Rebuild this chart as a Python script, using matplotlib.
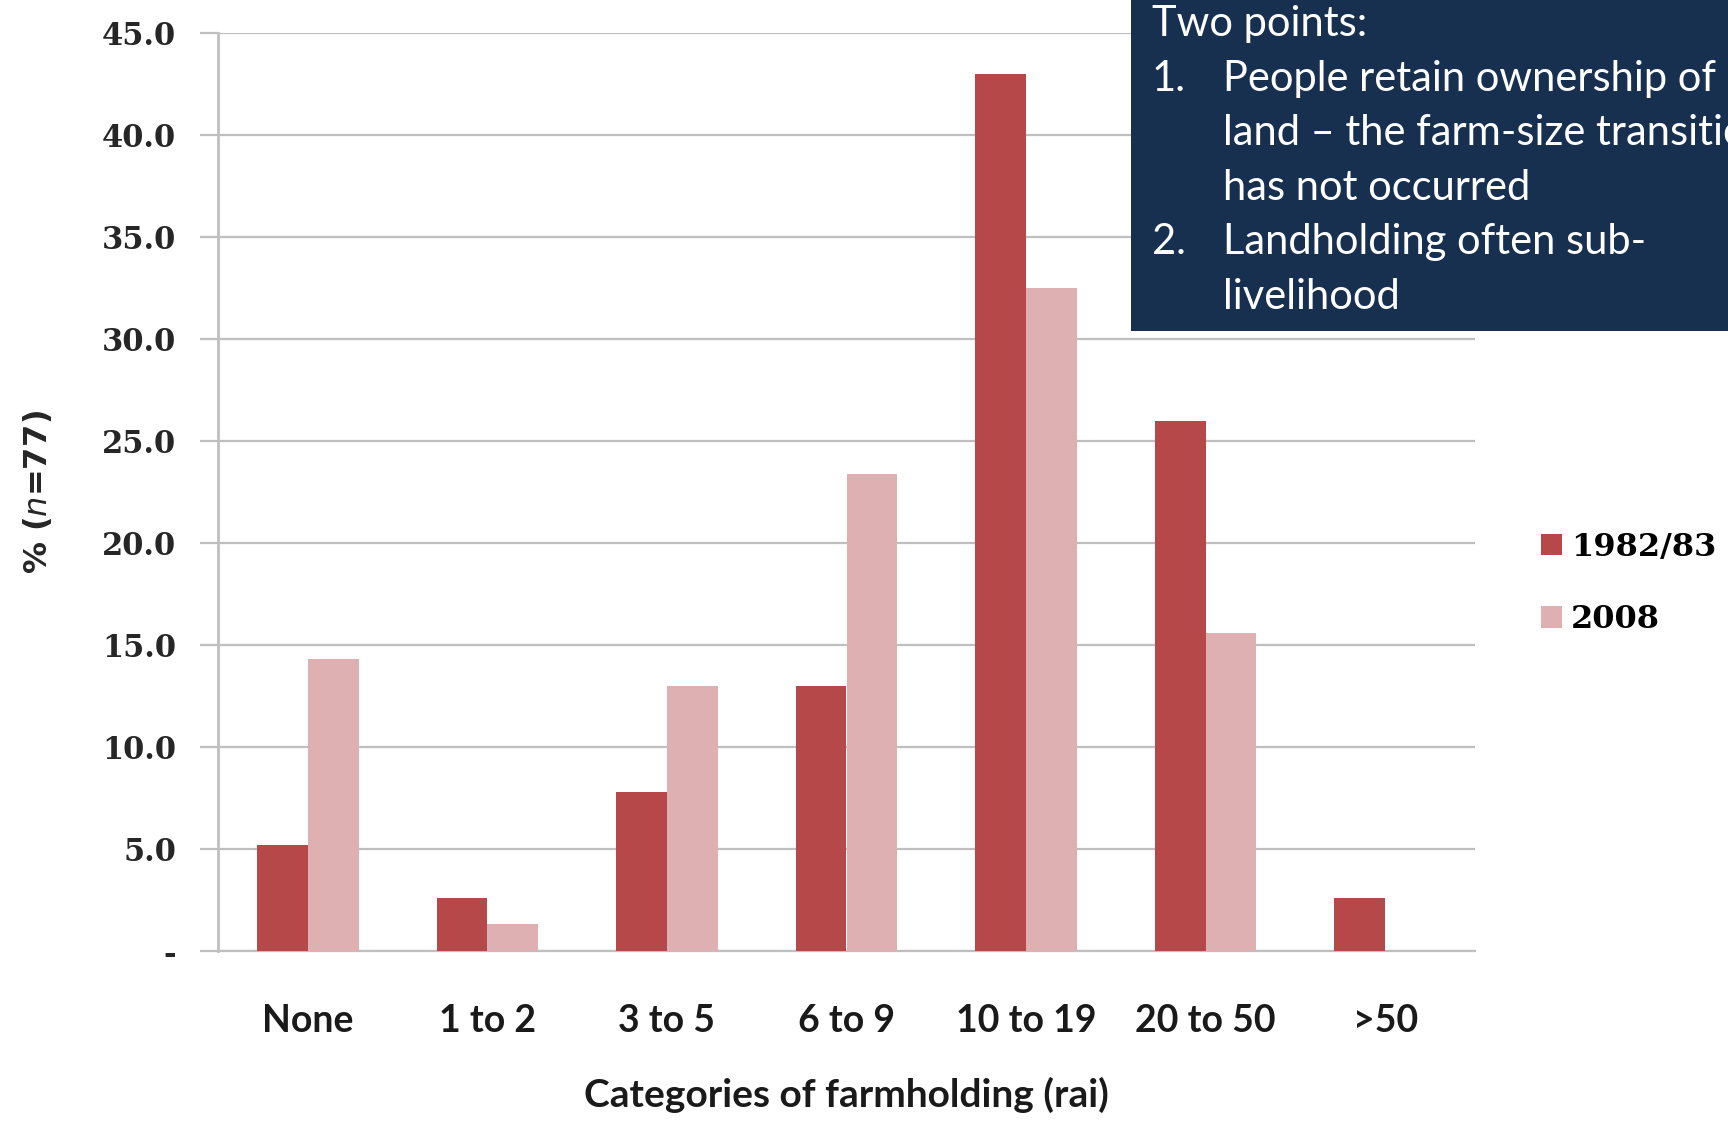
import matplotlib
matplotlib.use("Agg")
import matplotlib.pyplot as plt
import numpy as np
from matplotlib.patches import Rectangle

categories = ["None", "1 to 2", "3 to 5", "6 to 9", "10 to 19", "20 to 50", ">50"]
v1982 = [5.2, 2.6, 7.8, 13.0, 43.0, 26.0, 2.6]
v2008 = [14.3, 1.3, 13.0, 23.4, 32.5, 15.6, 0.0]
series_names = ["1982/83", "2008"]
yticks = [0, 5, 10, 15, 20, 25, 30, 35, 40, 45]
ytick_labels = ["-", "5.0", "10.0", "15.0", "20.0", "25.0", "30.0", "35.0", "40.0", "45.0"]

c1 = "#B7484A"
c2 = "#DEB0B1"
grid_c = "#BFBFBF"

fig = plt.figure(figsize=(17.28, 11.21), dpi=100)
ax = fig.add_axes([218/1728, 1-951/1121, (1475-218)/1728, (951-33)/1121])

x = np.arange(len(categories))
w = 0.283
ax.bar(x - w/2, v1982, w, color=c1, label=series_names[0], zorder=3)
ax.bar(x + w/2, v2008, w, color=c2, label=series_names[1], zorder=3)

ax.set_xlim(-0.5, len(categories) - 0.5)
ax.set_ylim(0, 45)
ax.set_yticks(yticks)
ax.set_yticklabels(ytick_labels, fontfamily="DejaVu Serif", fontweight="bold", fontsize=22, color="#262626")
ax.yaxis.grid(True, color=grid_c, linewidth=1.6, zorder=0)
ax.tick_params(axis="y", length=13, width=1.6, color=grid_c, pad=17)
ax.set_xticks(x)
ax.set_xticklabels(categories, fontfamily="Lato", fontweight="bold", fontsize=27, color="#1a1a1a")
ax.tick_params(axis="x", length=0, pad=38)
for s in ["top", "right"]:
    ax.spines[s].set_visible(False)
ax.spines["left"].set_color(grid_c)
ax.spines["left"].set_linewidth(2)
ax.spines["bottom"].set_color(grid_c)
ax.spines["bottom"].set_linewidth(1.6)

ax.set_xlabel("Categories of farmholding (rai)", fontfamily="Lato", fontweight="bold", fontsize=28,
              color="#1a1a1a", labelpad=28)
fig.text(37/1728, 1-492/1121, r"% ($\mathit{n}$=77)", rotation=90, ha="center", va="center",
         fontfamily="DejaVu Sans", fontweight="bold", fontsize=23, color="#262626")

leg = fig.legend(loc="upper left", bbox_to_anchor=(1512/1728, 1-503/1121), frameon=False,
                 prop={"family": "DejaVu Serif", "weight": "bold", "size": 23},
                 handlelength=0.65, handleheight=0.65, labelspacing=1.3, handletextpad=0.3)

# text box
fig.patches.append(Rectangle((1131/1728, 1-331/1121), 1, 331/1121, transform=fig.transFigure,
                             facecolor="#17304F", edgecolor="none", zorder=5))
tx_kw = dict(fontfamily="Lato", fontsize=30, color="white", va="center", ha="left", zorder=6)
ys = [24, 79, 133, 188, 242, 297]
fig.text(1152/1728, 1-ys[0]/1121, "Two points:", **tx_kw)
fig.text(1152/1728, 1-ys[1]/1121, "1.", **tx_kw)
fig.text(1223/1728, 1-ys[1]/1121, "People retain ownership of", **tx_kw)
fig.text(1223/1728, 1-ys[2]/1121, "land \u2013 the farm-size transition", **tx_kw)
fig.text(1223/1728, 1-ys[3]/1121, "has not occurred", **tx_kw)
fig.text(1152/1728, 1-ys[4]/1121, "2.", **tx_kw)
fig.text(1223/1728, 1-ys[4]/1121, "Landholding often sub-", **tx_kw)
fig.text(1223/1728, 1-ys[5]/1121, "livelihood", **tx_kw)

fig.savefig("out.png", dpi=100)
